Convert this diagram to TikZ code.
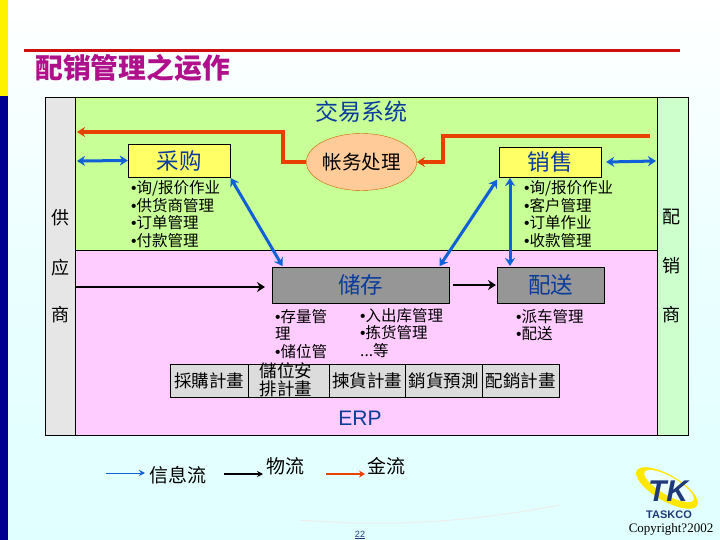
\documentclass[tikz,border=0pt]{standalone}
\usepackage{fontspec}
\setmainfont{Noto Sans CJK SC}
\newfontfamily\tcfont{Noto Sans CJK TC}
\newfontfamily\latinfont{Liberation Sans}
\newfontfamily\copyfont{Liberation Serif}
\usetikzlibrary{shapes.geometric,arrows.meta}
\definecolor{leafgreen}{HTML}{C8FF96}
\definecolor{palepink}{HTML}{FFCCFF}
\definecolor{palemint}{HTML}{CCFFCC}
\definecolor{paleice}{HTML}{E0FFFF}
\definecolor{sidegray}{HTML}{E6E6E6}
\definecolor{cellgray}{HTML}{DCDCDC}
\definecolor{boxgray}{HTML}{969696}
\definecolor{sunyellow}{HTML}{FFFF66}
\definecolor{peach}{HTML}{FFCC99}
\definecolor{titlepink}{HTML}{B0108C}
\definecolor{rulered}{HTML}{D01010}
\definecolor{flowred}{HTML}{E84000}
\definecolor{flowblue}{HTML}{1060D8}
\definecolor{inkblue}{HTML}{0A3C9C}
\definecolor{navyside}{HTML}{000090}
\definecolor{logoblue}{HTML}{1F3A7A}
\newcommand{\dotitem}{{\latinfont •}}
\begin{document}
\begin{tikzpicture}[
        x=1pt, y=-1pt,
        >={Stealth[length=8pt,width=10pt]},
        band/.style={draw, anchor=north west, inner sep=0pt},
        headbox/.style={draw, fill=sunyellow, inner sep=0pt, text=inkblue,
                        font=\fontsize{22.5}{24}\selectfont},
        stockbox/.style={draw, fill=boxgray, inner sep=0pt, text=inkblue,
                         font=\fontsize{22.5}{24}\selectfont},
        listing/.style={anchor=north west, inner sep=0pt, align=left,
                        font=\fontsize{15.5}{17.6}\selectfont},
        sideword/.style={inner sep=0pt, font=\fontsize{18}{20}\selectfont},
        plancell/.style={draw, fill=cellgray, inner sep=0pt, minimum height=33pt,
                         font=\tcfont\fontsize{17.5}{18}\selectfont},
        legendword/.style={inner sep=0pt, font=\fontsize{19}{20}\selectfont},
        bluearr/.style={<->, flowblue, line width=3pt},
        blackarr/.style={->, black, line width=2.4pt},
        redarr/.style={->, flowred, line width=3.6pt}
      ]
        \useasboundingbox (0,0) rectangle (720,540);
        % page
        \shade[top color=white, bottom color=paleice, middle color=white!35!paleice] (0,0) rectangle (720,540);
        \fill[yellow] (0,0) rectangle (8,96);
        \fill[navyside] (0,96) rectangle (8,540);
        \draw[white!85!gray, line width=1pt] (300,520) .. controls (400,528) and (480,520) .. (560,505);
        \fill[rulered] (24,49.5) rectangle (680,52.5);
        \node[inner sep=0pt, text=titlepink, font=\bfseries\fontsize{27.8}{30}\selectfont] (title) at (132.5,68) {配销管理之运作};

        % bands
        \node[band, fill=leafgreen, minimum width=582pt, minimum height=153pt] (trade) at (75,97) {};
        \node[band, fill=palepink, minimum width=582pt, minimum height=185pt] (erpband) at (75,250) {};
        \node[band, fill=sidegray, minimum width=30pt, minimum height=338pt] (supplier) at (45,97) {};
        \node[band, fill=palemint, minimum width=31pt, minimum height=338pt] (dealer) at (657,97) {};

        \node[sideword] (gong) at (60,218) {供};
        \node[sideword] (ying) at (60,268) {应};
        \node[sideword] (shanga) at (60,315) {商};
        \node[sideword] (pei) at (671,217) {配};
        \node[sideword] (xiao) at (671,266) {销};
        \node[sideword] (shangb) at (671,315) {商};

        \node[inner sep=0pt, text=inkblue, font=\fontsize{23}{25}\selectfont] (tradename) at (361,112) {交易系统};

        % boxes
        \node[headbox, minimum width=102pt, minimum height=33pt] (purchase) at (179,160.5) {采购};
        \node[headbox, minimum width=102pt, minimum height=30pt] (sales) at (550,162) {销售};
        \node[ellipse, draw=orange!80!black, fill=peach, inner sep=0pt, minimum width=97pt, minimum height=57pt,
              font=\fontsize{19.5}{21}\selectfont] (ledger) at (361.5,162) {帐务处理};
        \node[stockbox, minimum width=177pt, minimum height=36pt] (storage) at (360.5,285) {储存};
        \node[stockbox, minimum width=107pt, minimum height=36pt] (delivery) at (550.5,285) {配送};

        % lists
        \node[listing] (purchaselist) at (131,180.5) {\dotitem 询/报价作业\\\dotitem 供货商管理\\\dotitem 订单管理\\\dotitem 付款管理};
        \node[listing] (saleslist) at (524,180.5) {\dotitem 询/报价作业\\\dotitem 客户管理\\\dotitem 订单作业\\\dotitem 收款管理};
        \node[listing] (stocklista) at (275,309) {\dotitem 存量管\\理\\\dotitem 储位管};
        \node[listing] (stocklistb) at (360,308) {\dotitem 入出库管理\\\dotitem 拣货管理\\...等};
        \node[listing] (deliverylist) at (516,309) {\dotitem 派车管理\\\dotitem 配送};

        % plan row
        \node[plancell, minimum width=78pt] (planbuy) at (209,380.5) {採購計畫};
        \node[plancell, minimum width=81pt] (planslot) at (288.5,380.5) {};
        \node[plancell, minimum width=76pt] (planpick) at (367,380.5) {揀貨計畫};
        \node[plancell, minimum width=77pt] (planfore) at (443.5,380.5) {銷貨預測};
        \node[plancell, minimum width=77pt] (plandeal) at (520.5,380.5) {配銷計畫};
        \node[inner sep=0pt, align=center, font=\tcfont\fontsize{17.5}{17.5}\selectfont] (planslottext) at (286,380) {儲位安\\排計畫};
        \node[inner sep=0pt, text=inkblue, font=\latinfont\fontsize{21}{24}\selectfont] (erpname) at (360,418) {ERP};

        % free ends
        \coordinate (supin) at (77,132);
        \coordinate (dealin) at (650,136);
        \coordinate (supblue) at (77,161);
        \coordinate (dealblue) at (656,161);
        \coordinate (suppath) at (75,287);

        % connectors
        \draw[redarr] (ledger.west) -- (283,162) -- (283,132) -- (supin);
        \draw[redarr] (dealin) -- (443,136) -- (443,162) -- (ledger.east);
        \draw[bluearr] (supblue) -- (purchase.west);
        \draw[bluearr] (sales.east) ++(5,0) -- (dealblue);
        \draw[bluearr, shorten >=1pt, shorten <=1pt] (purchase.south east) -- (283,267);
        \draw[bluearr, shorten >=1pt, shorten <=3pt] (sales.south west) -- (439,267);
        \draw[bluearr, shorten >=1pt, shorten <=1pt] (510,177) -- (510,267);
        \draw[blackarr] (suppath) -- (265,287);
        \draw[blackarr] (storage.east) ++(4,0) -- (496,285);

        % legend
        \coordinate (infoa) at (106,473);
        \coordinate (infob) at (145,473);
        \coordinate (goodsa) at (224,474);
        \coordinate (goodsb) at (263,474);
        \coordinate (casha) at (326,474);
        \coordinate (cashb) at (365,474);
        \draw[-{Stealth[length=6pt,width=6pt]}, flowblue, line width=1pt] (infoa) -- (infob);
        \draw[-{Stealth[length=6pt,width=6pt]}, black, line width=1.4pt] (goodsa) -- (goodsb);
        \draw[-{Stealth[length=6pt,width=7pt]}, flowred, line width=2pt] (casha) -- (cashb);
        \node[legendword] (infoword) at (177.5,475) {信息流};
        \node[legendword] (goodsword) at (285,466) {物流};
        \node[legendword] (cashword) at (386,466) {金流};
        \node[inner sep=0pt, font=\latinfont\fontsize{9}{10}\selectfont, text=logoblue] (pagenum) at (360,535) {\underline{22}};

        % logo
        \fill[yellow!90!orange, rotate around={-30:(667,488)}] (667,488) ellipse (35pt and 13pt);
        \fill[white!40!paleice, rotate around={-30:(669,486)}] (669,486) ellipse (28pt and 9pt);
        \node[inner sep=0pt, text=logoblue, font=\latinfont\bfseries\itshape\fontsize{30}{31}\selectfont] (tklogo) at (668,491) {TK};
        \node[inner sep=0pt, text=logoblue, font=\latinfont\bfseries\fontsize{11}{12}\selectfont] (taskco) at (669,515) {TASKCO};
        \node[inner sep=0pt, font=\copyfont\fontsize{13}{14}\selectfont] (copyline) at (671,529.5) {Copyright?2002};
      \end{tikzpicture}
\end{document}
